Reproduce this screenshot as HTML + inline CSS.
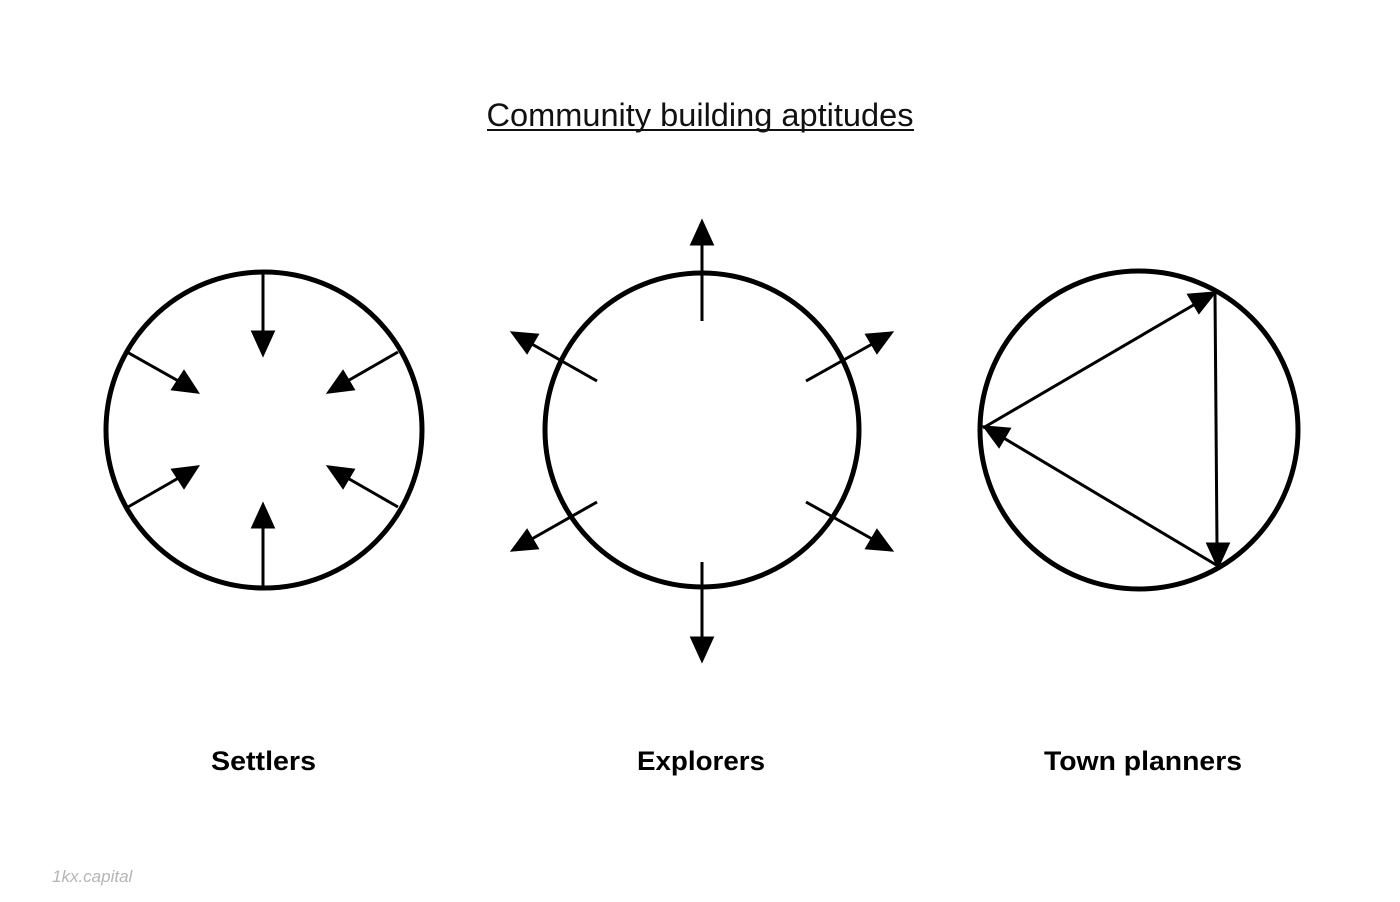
<!DOCTYPE html>
<html><head><meta charset="utf-8"><style>
html,body{margin:0;padding:0;background:#fff;}
svg{display:block;}
</style></head><body>
<svg width="1400" height="902" viewBox="0 0 1400 902" xmlns="http://www.w3.org/2000/svg">
<defs>
<marker id="a" viewBox="0 0 10 10" refX="10" refY="5" markerWidth="10" markerHeight="10" markerUnits="userSpaceOnUse" orient="auto">
</marker>
</defs>
<rect width="1400" height="902" fill="#fff"/>
<text x="700" y="126" text-anchor="middle" font-family="Liberation Sans, sans-serif" font-size="32" textLength="427" lengthAdjust="spacingAndGlyphs" fill="#111">Community building aptitudes</text>
<rect x="487" y="129" width="427" height="2" fill="#111"/>

<g fill="none" stroke="#000" stroke-width="5">
<circle cx="264" cy="430" r="158"/>
<circle cx="702" cy="430" r="157"/>
<circle cx="1139" cy="430" r="159"/>
</g>

<g stroke="#000" stroke-width="3" fill="#000">
<!-- Settlers -->
<line x1="263" y1="270" x2="263" y2="335"/>
<polygon points="263,354 253,332 273,332"/>
<line x1="263" y1="586" x2="263" y2="525"/>
<polygon points="263,505 253,527 273,527"/>
<line x1="127" y1="352" x2="182" y2="383"/>
<polygon points="197,392 173,389 184,372" />
<line x1="398" y1="352" x2="344" y2="383"/>
<polygon points="329,392 353,389 343,372"/>
<line x1="128" y1="507" x2="182" y2="476"/>
<polygon points="197,467 173,470 184,487"/>
<line x1="398" y1="507" x2="344" y2="476"/>
<polygon points="329,467 353,470 343,487"/>

<!-- Explorers -->
<line x1="702" y1="321" x2="702" y2="242"/>
<polygon points="702,222 692,244 712,244"/>
<line x1="702" y1="562" x2="702" y2="640"/>
<polygon points="702,660 692,638 712,638"/>
<line x1="597" y1="381" x2="530" y2="343"/>
<polygon points="513,333 537,335 527,352"/>
<line x1="806" y1="381" x2="874" y2="343"/>
<polygon points="891,333 867,335 877,352"/>
<line x1="597" y1="502" x2="530" y2="540"/>
<polygon points="513,550 537,548 527,531"/>
<line x1="806" y1="502" x2="874" y2="540"/>
<polygon points="891,550 867,548 877,531"/>

<!-- Town planners -->
<line x1="983" y1="428" x2="1197" y2="303"/>
<polygon points="1214,293 1199,312 1189,295"/>
<line x1="1215" y1="293" x2="1217" y2="546"/>
<polygon points="1218,566 1208,544 1228,544"/>
<line x1="1218" y1="566" x2="1002" y2="437"/>
<polygon points="985,427 1009,429 999,446"/>
</g>

<g font-family="Liberation Sans, sans-serif" font-weight="bold" font-size="27" fill="#000" text-anchor="middle">
<text x="263.5" y="770" textLength="105" lengthAdjust="spacingAndGlyphs">Settlers</text>
<text x="701" y="770" textLength="128" lengthAdjust="spacingAndGlyphs">Explorers</text>
<text x="1143" y="770" textLength="198" lengthAdjust="spacingAndGlyphs">Town planners</text>
</g>
<text x="52" y="882" font-family="Liberation Sans, sans-serif" font-style="italic" font-size="17" fill="#b5b5b5">1kx.capital</text>
</svg>
</body></html>
